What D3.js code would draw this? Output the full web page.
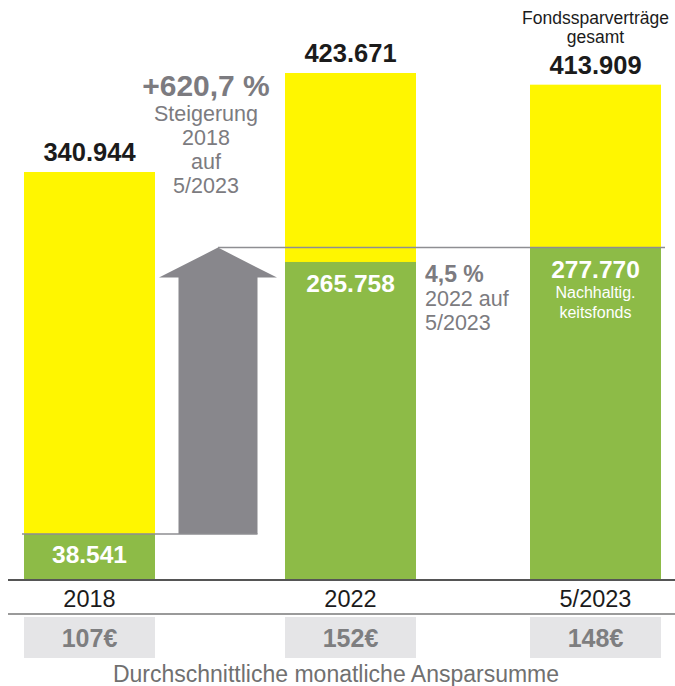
<!DOCTYPE html>
<html>
  <head>
    <meta charset="utf-8">
    <title>Fondssparverträge</title>
    <script src="https://d3js.org/d3.v7.min.js"></script>
    <style>
    body { margin: 0; background: #fff; }
    svg { display: block; font-family: "Liberation Sans", Arial, sans-serif; }
    .value { font-weight: bold; fill: #1b1b1b; }
    .inner { font-weight: bold; fill: #fff; }
    .note { fill: #7c7b80; }
    .cat { fill: #1b1b1b; }
    .euro { font-weight: bold; fill: #7e7e80; }
    </style>
  </head>
  <body>
    <script>

      // data
      var categories = ["2018", "2022", "5/2023"];
      var totals = [340944, 423671, 413909];        // Fondssparverträge gesamt
      var sustainable = [38541, 265758, 277770];    // Nachhaltigkeitsfonds
      var monthly = [107, 152, 148];                // Durchschnittliche monatliche Ansparsumme

      // setup
      var w = 675, h = 686;
      var baseline = 580;
      var barWidth = 131;
      var yellow = "#fff600", green = "#8dbb47", arrowGrey = "#88878c";

      var de = d3.formatLocale({decimal: ",", thousands: ".", grouping: [3], currency: ["", "€"]});
      var fmtInt = de.format(",d");
      var fmtPct = de.format(",.1f");

      var svg = d3.select("body").append("svg")
          .attr("width", w)
          .attr("height", h);

      // bar centres are not evenly spaced in the original
      var xScale = d3.scaleOrdinal()
          .domain(categories)
          .range([89.5, 350.5, 595.5]);
      var yScale = d3.scaleLinear()
          .domain([0, d3.max(totals)])
          .range([baseline, 73]);

      var rows = categories.map(function (c, i) {
        return {cat: c, total: totals[i], green: sustainable[i], monthly: monthly[i]};
      });

      var left = function (d) { return xScale(d.cat) - barWidth / 2; };

      // yellow totals
      svg.append("g").selectAll("rect").data(rows).enter().append("rect")
          .attr("x", left)
          .attr("width", barWidth)
          .attr("y", function (d) { return yScale(d.total); })
          .attr("height", function (d) { return baseline - yScale(d.total); })
          .attr("fill", yellow);

      // green sustainable share
      svg.append("g").selectAll("rect").data(rows).enter().append("rect")
          .attr("x", left)
          .attr("width", barWidth)
          .attr("y", function (d) { return yScale(d.green); })
          .attr("height", function (d) { return baseline - yScale(d.green); })
          .attr("fill", green);

      // arrow between 2018 and 2022
      var gapMid = (xScale(categories[0]) + xScale(categories[1])) / 2 - 2;
      var yLow = yScale(sustainable[0]), yHigh = yScale(sustainable[2]);
      var shaft = 39.5, head = 59, headH = 30;
      svg.append("path")
          .attr("d", d3.line()([
            [gapMid - shaft, yLow], [gapMid - shaft, yHigh + headH], [gapMid - head, yHigh + headH],
            [gapMid, yHigh], [gapMid + head, yHigh + headH], [gapMid + shaft, yHigh + headH],
            [gapMid + shaft, yLow]
          ]) + "Z")
          .attr("fill", arrowGrey);

      // reference lines
      svg.append("line")
          .attr("x1", xScale(categories[0]) - barWidth / 2 - 2).attr("x2", gapMid + shaft)
          .attr("y1", yLow).attr("y2", yLow)
          .attr("stroke", "#8e8e92").attr("stroke-width", 1.5);
      svg.append("line")
          .attr("x1", gapMid).attr("x2", xScale(categories[2]) + barWidth / 2 + 4)
          .attr("y1", yHigh).attr("y2", yHigh)
          .attr("stroke", "#8e8e92").attr("stroke-width", 1.5);

      // axis lines
      svg.append("line").attr("x1", 8).attr("x2", w).attr("y1", baseline).attr("y2", baseline)
          .attr("stroke", "#555").attr("stroke-width", 2);
      svg.append("line").attr("x1", 8).attr("x2", w).attr("y1", 614).attr("y2", 614)
          .attr("stroke", "#9a9a9a").attr("stroke-width", 2);

      // total labels on top
      svg.append("g").selectAll("text").data(rows).enter().append("text")
          .attr("class", "value")
          .attr("x", function (d) { return xScale(d.cat); })
          .attr("y", function (d) { return yScale(d.total) - 11; })
          .attr("text-anchor", "middle")
          .attr("font-size", 25.5)
          .text(function (d) { return fmtInt(d.total); });

      svg.append("text").attr("x", xScale(categories[2])).attr("y", 24)
          .attr("text-anchor", "middle").attr("font-size", 17.5).attr("fill", "#1b1b1b")
          .text("Fondssparverträge");
      svg.append("text").attr("x", xScale(categories[2])).attr("y", 43)
          .attr("text-anchor", "middle").attr("font-size", 17.5).attr("fill", "#1b1b1b")
          .text("gesamt");

      // green labels
      svg.append("g").selectAll("text").data(rows).enter().append("text")
          .attr("class", "inner")
          .attr("x", function (d) { return xScale(d.cat); })
          .attr("y", function (d, i) { return i === 0 ? baseline - 17 : yScale(d.green) + 30; })
          .attr("text-anchor", "middle")
          .attr("font-size", 24.5)
          .text(function (d) { return fmtInt(d.green); });

      svg.append("text").attr("x", xScale(categories[2])).attr("y", 298)
          .attr("text-anchor", "middle").attr("font-size", 16).attr("fill", "#fff")
          .text("Nachhaltig.");
      svg.append("text").attr("x", xScale(categories[2])).attr("y", 318)
          .attr("text-anchor", "middle").attr("font-size", 16).attr("fill", "#fff")
          .text("keitsfonds");

      // growth 2018 -> 5/2023
      var g1 = svg.append("g").attr("class", "note").attr("text-anchor", "middle");
      g1.append("text").attr("x", 206).attr("y", 96)
          .attr("font-size", 30).attr("font-weight", "bold")
          .text("+" + fmtPct((sustainable[2] / sustainable[0] - 1) * 100) + " %");
      ["Steigerung", categories[0], "auf", categories[2]].forEach(function (t, i) {
        g1.append("text").attr("x", 206).attr("y", 121 + i * 24)
            .attr("font-size", 21.5).text(t);
      });

      // growth 2022 -> 5/2023
      var g2 = svg.append("g").attr("class", "note");
      var nx = xScale(categories[1]) + barWidth / 2 + 9;
      g2.append("text").attr("x", nx).attr("y", 282)
          .attr("font-size", 23).attr("font-weight", "bold")
          .text(fmtPct((sustainable[2] / sustainable[1] - 1) * 100) + " %");
      g2.append("text").attr("x", nx).attr("y", 306).attr("font-size", 21.5)
          .text(categories[1] + " auf");
      g2.append("text").attr("x", nx).attr("y", 330).attr("font-size", 21.5)
          .text(categories[2]);

      // category labels
      svg.append("g").selectAll("text").data(rows).enter().append("text")
          .attr("class", "cat")
          .attr("x", function (d) { return xScale(d.cat); })
          .attr("y", 607)
          .attr("text-anchor", "middle")
          .attr("font-size", 23.5)
          .text(function (d) { return d.cat; });

      // monthly savings boxes
      svg.append("g").selectAll("rect").data(rows).enter().append("rect")
          .attr("x", left)
          .attr("width", barWidth)
          .attr("y", 617)
          .attr("height", 41)
          .attr("fill", "#e5e5e7");
      svg.append("g").selectAll("text").data(rows).enter().append("text")
          .attr("class", "euro")
          .attr("x", function (d) { return xScale(d.cat); })
          .attr("y", 647)
          .attr("text-anchor", "middle")
          .attr("font-size", 25)
          .text(function (d) { return d.monthly + "€"; });

      svg.append("text").attr("x", 336).attr("y", 682)
          .attr("text-anchor", "middle").attr("font-size", 23).attr("fill", "#707070")
          .text("Durchschnittliche monatliche Ansparsumme");

    </script>
  </body>
</html>
